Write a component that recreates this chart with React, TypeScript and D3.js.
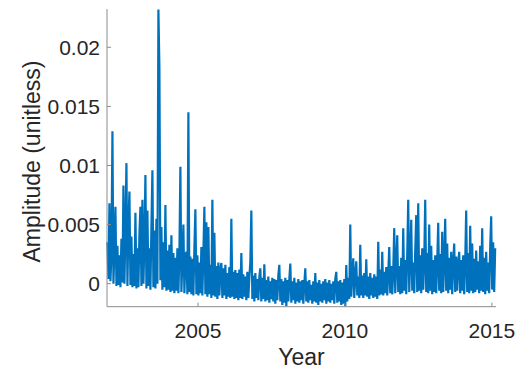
import React from "react";
import * as d3 from "d3";

// Time series sampled at a regular step (years), values in thousandths (×1e-3)
const startYear = 2001.92;
const stepYears = 0.034;
const amplitudeMilli: number[] = [
  3.5, 0.4, 6.8, 0.2, 2.5, 12.9, 0.0, 3.0, 6.5, -0.2, 3.2, -0.1, 2.4, -0.3, 3.8, 0.1, 8.3, 0.0, 4.5, 10.2,
  -0.2, 5.0, 7.8, -0.1, 4.0, -0.3, 2.5, -0.2, 6.0, -0.4, 3.0, -0.3, 4.2, 6.5, -0.2, 7.1, 0.0, 3.5, 9.2, -0.4,
  6.2, -0.2, 3.0, -0.5, 4.8, 9.6, -0.3, 4.5, -0.4, 5.5, 0.0, 23.2, 18.2, 0.3, 4.8, -0.5, 3.5, -0.3, 6.65, -0.6,
  2.8, -0.5, 3.3, -0.7, 4.1, -0.6, 2.6, -0.8, 2.2, -0.6, 3.0, -0.8, 2.5, 9.9, -0.7, 2.0, 5.0, -0.8, 2.4, 2.7,
  -0.9, 14.5, -0.7, 2.3, -0.9, 2.1, -1.0, 3.0, 6.3, -0.9, 2.4, -1.0, 1.8, -0.8, 3.1, -1.0, 2.6, 6.5, -0.9, 5.2,
  -1.1, 4.8, -0.9, 1.6, -1.2, 7.1, -1.0, 4.3, -1.1, 1.5, -1.3, 1.8, -1.0, 1.2, 1.75, -1.2, 1.3, -1.0, 1.6, -1.3,
  0.9, -1.1, 1.4, -1.2, 5.5, -1.1, 1.0, -1.3, 1.16, -1.2, 0.9, -1.4, 1.2, -1.2, 2.6, -1.3, 0.8, -1.1, 0.6, -1.4,
  1.0, -1.2, 0.5, 1.86, 6.2, -1.3, 0.7, -1.5, 0.9, -1.2, 0.4, -1.4, 0.6, 1.3, -1.5, 0.5, -1.3, 1.64, -1.5, 0.3,
  -1.4, 0.6, -1.6, 0.2, -1.3, 0.5, -1.5, 0.4, -1.7, 0.3, -1.4, 0.7, 1.6, -1.5, 0.4, -1.8, 0.2, -1.6, 0.5, -1.9,
  0.3, -1.5, 0.4, 1.7, -1.6, 0.2, -1.4, 0.5, -1.7, 0.1, -1.5, 0.4, -1.6, 0.2, -1.4, 0.3, -1.7, 0.0, 1.3, -1.5,
  0.2, -1.6, 0.3, -1.4, -0.1, -1.7, 0.2, -1.5, 0.9, -1.6, 0.1, -1.8, 0.3, -1.5, 0.0, -1.6, 0.2, -1.4, 0.4, -1.7,
  0.1, -1.5, 0.3, -1.6, 0.0, -1.4, 0.2, -1.7, 0.4, 1.0, -1.6, 0.2, -1.5, 0.3, -1.8, 0.1, -1.7, 0.4, -1.9, 1.58,
  -1.5, 0.5, -1.3, 5.0, -1.1, 0.9, 2.15, -1.2, 0.8, 1.9, -1.0, 0.6, -1.2, 3.3, -1.0, 0.7, -1.2, 0.9, -1.0, 2.06,
  -1.1, 0.6, -1.3, 0.9, -1.0, 0.5, -1.2, 0.8, -1.1, 0.6, -1.3, 3.55, -1.0, 1.2, -0.9, 2.7, -1.0, 1.0, -0.8, 1.4,
  -1.0, 0.9, 3.1, -0.8, 1.5, -0.9, 1.1, 4.7, -0.8, 1.8, 4.1, -0.7, 1.5, -0.9, 2.2, -0.8, 4.7, -0.6, 2.0, -0.9,
  2.5, 7.1, -0.7, 2.2, 5.4, -0.6, 1.8, -0.8, 2.8, 5.8, -0.7, 6.8, -0.6, 2.4, -0.8, 3.0, -0.5, 1.9, 7.1, -0.7,
  2.6, -0.8, 5.0, -0.6, 3.2, -0.9, 2.0, -0.7, 2.4, -0.8, 1.8, 5.16, -0.6, 2.5, -0.8, 4.4, -0.7, 2.1, 5.5, -0.6,
  3.4, -0.8, 2.2, -0.5, 2.7, -0.9, 1.9, 3.4, -0.7, 2.3, -0.6, 1.7, 2.7, -0.8, 2.0, -0.6, 2.4, -0.9, 1.8, 6.2,
  -0.7, 2.6, -0.8, 4.9, -0.6, 3.4, -0.8, 2.1, -0.7, 2.8, -0.5, 1.9, -0.8, 3.2, -0.6, 4.7, -0.7, 2.2, -0.9, 2.7,
  -0.6, 1.8, -0.8, 3.0, 5.7, -0.5, 3.5, -0.7, 3.0,
];

const xTicks = [2005, 2010, 2015];
const xTickLabels = ["2005", "2010", "2015"];
const yTicks = [0, 0.005, 0.01, 0.015, 0.02];
const yTickLabels = ["0", "0.005", "0.01", "0.015", "0.02"];
const xDomain: [number, number] = [2001.905, 2015.14];
const yDomain: [number, number] = [-0.001946, 0.02324];
const titleText = "EOF 1 Time Series";
const xLabel = "Year";
const yLabel = "Amplitude (unitless)";

export default function App() {
  const W = 526;
  const H = 369;
  const left = 107, right = 496, top = 9, bottom = 306.7;
  const x = d3.scaleLinear().domain(xDomain).range([left, right]);
  const y = d3.scaleLinear().domain(yDomain).range([bottom, top]);

  const data = amplitudeMilli.map((v, i) => ({ year: startYear + i * stepYears, value: v / 1000 }));
  const line = d3
    .line<{ year: number; value: number }>()
    .x((d) => x(d.year))
    .y((d) => y(d.value));

  const font = "'Liberation Sans', Arial, Helvetica, sans-serif";
  const axisColor = "#8c8c8c";
  const textColor = "#262626";

  return (
    <svg
      width={W}
      height={H}
      style={{ position: "absolute", left: 0, top: 0, background: "#fff" }}
      fontFamily={font}
    >
      <rect x={0} y={0} width={W} height={H} fill="#fff" />
      <text x={(left + right) / 2 + 2} y={0.3} textAnchor="middle" fontSize={23} fontWeight="bold" fill={textColor}>
        {titleText}
      </text>
      <path d={line(data) || ""} fill="none" stroke="#0072BD" strokeWidth={2.2} strokeLinejoin="miter" strokeMiterlimit={4} />
      {/* axes */}
      <line x1={left} x2={left} y1={top} y2={bottom} stroke={axisColor} strokeWidth={1} />
      <line x1={left} x2={right} y1={bottom} y2={bottom} stroke={axisColor} strokeWidth={1} />
      {yTicks.map((t, i) => (
        <g key={"y" + i}>
          <line x1={left} x2={left + 4} y1={y(t)} y2={y(t)} stroke={axisColor} strokeWidth={1} />
          <text x={left - 7} y={y(t) + 7.6} textAnchor="end" fontSize={21} fill={textColor}>
            {yTickLabels[i]}
          </text>
        </g>
      ))}
      {xTicks.map((t, i) => (
        <g key={"x" + i}>
          <line x1={x(t)} x2={x(t)} y1={bottom} y2={bottom - 4} stroke={axisColor} strokeWidth={1} />
          <text x={x(t)} y={337.5} textAnchor="middle" fontSize={21} fill={textColor}>
            {xTickLabels[i]}
          </text>
        </g>
      ))}
      <text x={(left + right) / 2} y={365} textAnchor="middle" fontSize={23} fill={textColor}>
        {xLabel}
      </text>
      <text
        transform={`translate(40,${161.5}) rotate(-90)`}
        textAnchor="middle"
        fontSize={23}
        fill={textColor}
      >
        {yLabel}
      </text>
    </svg>
  );
}
